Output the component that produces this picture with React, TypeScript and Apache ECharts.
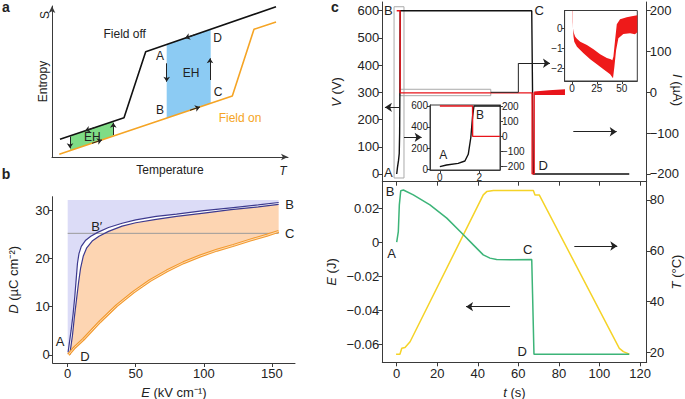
import React, { useEffect, useRef } from 'react';
import * as echarts from 'echarts';

const FONT = '"Liberation Sans", Arial, Helvetica, sans-serif';
const INK = '#222222';
const AXIS = '#3a3a3a';

// ---------- panel a : schematic (arbitrary units 0..100) ----------
const fieldOffT = [3.39, 30.51, 39.7, 94.92];
const fieldOffS = [11.72, 26.03, 69.74, 99.54];
const fieldOnT = [3.09, 76.4, 85.59, 94.92];
const fieldOnS = [1.79, 40.4, 84.57, 89.4];
const ehStart = [7.63, 48.6];
const ehEnd = [25.97, 67.25];
const ehColors = ['#7fdc86', '#8ccbf3'];
const cycleArrowsA = [
  [[48.6, 62.05], [48.6, 49.87]],
  [[66.95, 50.99], [66.95, 65.36]],
  [[60.59, 81.01], [56.36, 78.73]],
  [[58.47, 30.96], [62.71, 33.19]],
  [[7.63, 13.44], [7.63, 5.76]],
  [[25.97, 14.57], [25.97, 22.72]],
  [[18.22, 19.55], [13.98, 17.31]],
  [[16.95, 9.09], [21.19, 11.32]],
];

// ---------- panel b : D-E loops ----------
const upE = [0.3, 1.5, 2.5, 4, 5.2, 6.2, 7.2, 8.3, 10, 13, 17, 22, 30, 40, 50, 65, 80, 100, 120, 140, 155];
const upD = [0.5, 3, 5, 8.5, 12, 15.5, 19, 21, 22.5, 23.7, 24.6, 25.4, 26.4, 27.3, 28.0, 28.7, 29.2, 29.9, 30.5, 31.1, 31.6];
const loE = [1.5, 3.5, 5, 6.5, 8, 9.5, 11.5, 14, 18, 23, 30, 40, 50, 65, 80, 100, 120, 140, 155];
const loD = [0, 4, 8, 11.5, 15, 18, 20.5, 22.2, 23.6, 24.6, 25.6, 26.7, 27.4, 28.1, 28.7, 29.4, 30.1, 30.7, 31.2];
const orE = [0.5, 5, 11.5, 23.8, 36, 48.3, 60.5, 72.8, 85, 97.3, 109.6, 121.8, 134, 146.3, 155];
const orD = [0, 1.5, 3.2, 6.9, 10.2, 13, 15.4, 17.4, 19.1, 20.5, 21.7, 22.7, 23.8, 24.8, 25.6];
const bPlateauD = 25.2;
const bTopD = 32.1;
const bMaxE = 155;

// ---------- panel c top : V and I vs t ----------
const vT = [0, 0.4, 0.9, 1.25, 1.45, 1.57, 1.66, 1.73, 66.6, 67.4, 114.7];
const vV = [0, 25, 50, 75, 150, 300, 500, 600, 600, 0, 0];
const iT = [0, 1.7, 1.7, 66.8, 66.8, 67.8, 67.8];
const iI = [200, 200, -1.5, -1.5, -200, -200, 0];
const noiseT = [67.8, 75, 83];
const noiseHi = [2, 5, 7.4];
const noiseLo = [-6.6, -6.6, -6.6];
const box1T = [-1.3, 3.6];
const box1V = [-14.7, 614.6];
const box2T = [1.6, 46.4];
const box2I = [-8.3, 7.4];
const leaderT = [46.4, 60, 60];
const leaderI = [0, 0, 71.1];

// inset 1 (0-3 s)
const zT = [0, 0.34, 0.93, 1.27, 1.44, 1.57, 1.66, 1.73, 3.05];
const zV = [22, 38, 54, 76, 140, 300, 500, 600, 600];
const ziT = [0, 1.66, 1.66, 3.05];
const ziI = [200, 200, 0, 0];

// inset 2 (current envelope)
const nUpT = [0, 0.5, 1, 2, 3.3, 5, 8.3, 15, 21.6, 28.3, 35, 39, 40.5, 41.6, 43.3, 45, 48.3, 55, 60, 65.6];
const nUpI = [0.89, 0.3, 0.0, -0.25, -0.42, -0.52, -0.67, -0.83, -1.05, -1.3, -1.48, -1.55, -1.6, -1.42, -0.58, 0.2, 0.45, 0.55, 0.6, 0.65];
const nLoT = [0.3, 0.8, 1.5, 2.3, 5, 11.6, 18.3, 25, 31.6, 38.3, 41.2, 42.6, 44.3, 46.6, 51.6, 58.3, 63.3, 65.6];
const nLoI = [0.89, 0.2, -0.4, -0.67, -0.92, -1.25, -1.55, -1.8, -2.05, -2.3, -2.5, -1.92, -1.1, -0.5, -0.28, -0.25, -0.3, -0.2];

// ---------- panel c bottom : E and T vs t ----------
const eT = [0, 0.8, 1.3, 2, 3.3, 8.2, 16.4, 24.7, 32.9, 37.8, 42.7, 46, 49.3, 57.5, 66.6, 67, 67.7, 114.7];
const eJ = [0, 0.0062, 0.0219, 0.0302, 0.0306, 0.0278, 0.0219, 0.0141, 0.0043, -0.0016, -0.0075, -0.0094, -0.0102, -0.0104, -0.0102, -0.03, -0.0659, -0.0659];
const tT = [-0.3, 1.6, 2.5, 4.1, 6.6, 42.7, 44.4, 47.7, 67.4, 68.2, 70.3, 109.8, 111.8, 114.7];
const tC = [19.3, 19.3, 21.6, 21.9, 24.2, 82, 83.3, 83.7, 83.7, 82, 82, 21.6, 20.3, 19.3];

const zip = (a: number[], b: number[]) => a.map((v, i) => [v, b[i]]);
const interp = (xs: number[], ys: number[], x: number) => {
  for (let i = 0; i < xs.length - 1; i++) {
    if (x >= xs[i] && x <= xs[i + 1]) return ys[i] + ((x - xs[i]) / (xs[i + 1] - xs[i])) * (ys[i + 1] - ys[i]);
  }
  return ys[ys.length - 1];
};
const rectPts = (xr: number[], yr: number[]) => [[xr[0], yr[0]], [xr[1], yr[0]], [xr[1], yr[1]], [xr[0], yr[1]], [xr[0], yr[0]]];
const minusFmt = (v: number) => (v < 0 ? '\u2212' : '') + Math.abs(v);
const eFmt = (v: number) => (Math.abs(v) < 1e-9 ? '0' : (v < 0 ? '\u2212' : '') + Math.abs(v).toFixed(2));

const poly = (pts: number[][], fill: string, xi: number, yi: number, z = 1) => ({
  type: 'custom', xAxisIndex: xi, yAxisIndex: yi, silent: true, z, clip: true,
  data: [pts[0]],
  renderItem: (_p: any, api: any) => ({
    type: 'polygon',
    shape: { points: pts.map((p) => api.coord(p)) },
    style: { fill, stroke: 'none' },
  }),
});
const line = (data: number[][], color: string, width: number, xi: number, yi: number, z = 3) => ({
  type: 'line', xAxisIndex: xi, yAxisIndex: yi, data, showSymbol: false, symbol: 'none', silent: true, z,
  lineStyle: { color, width }, animation: false,
});
const arrows = (segs: number[][][], xi: number, yi: number, size = 7, color = '#222') => ({
  type: 'lines', coordinateSystem: 'cartesian2d', xAxisIndex: xi, yAxisIndex: yi, polyline: false,
  symbol: ['none', 'arrow'], symbolSize: size, silent: true, z: 6,
  lineStyle: { color, width: 1, opacity: 1, curveness: 0 },
  data: segs.map((c) => ({ coords: c })),
});

const nameStyle = (size = 13) => ({
  fontSize: size, color: INK, fontFamily: FONT,
  rich: { i: { fontStyle: 'italic', fontSize: size, color: INK, fontFamily: FONT } },
});
const valAxis = (o: any) => {
  const { grid, min, max, ticks, labels = true, fmt, size = 13, pos, name, gap, rot, tick = 4, margin = 3 } = o;
  return {
    type: 'value', gridIndex: grid, min, max, position: pos,
    name, nameLocation: 'middle', nameGap: gap, nameRotate: rot, nameTextStyle: nameStyle(13),
    axisLine: { show: true, onZero: false, lineStyle: { color: AXIS, width: 1 } },
    axisTick: { show: true, length: tick, customValues: ticks, lineStyle: { color: AXIS } },
    axisLabel: { show: labels, customValues: ticks, formatter: fmt, fontSize: size, color: INK, fontFamily: FONT, margin },
    splitLine: { show: false },
  };
};

const txt = (text: string, x: number, y: number, o: any = {}) => ({
  type: 'text', x, y, rotation: o.rot || 0, silent: true, z: 100,
  style: {
    text, fill: o.color || INK, fontSize: o.size || 13, fontFamily: FONT,
    fontWeight: o.weight || 'normal', fontStyle: o.style || 'normal',
    textAlign: 'center', textVerticalAlign: 'middle', align: 'center', verticalAlign: 'middle',
    rich: { i: { fontStyle: 'italic', fontSize: o.size || 13, fontFamily: FONT, fill: INK, color: INK } },
  },
});

export default function App() {
  const ref = useRef<HTMLDivElement>(null);
  useEffect(() => {
    document.body.style.margin = '0';
    const chart = echarts.init(ref.current!, undefined, { renderer: 'svg' });

    const ehPolys = ehStart.map((s, k) => {
      const e = ehEnd[k];
      return poly([
        [s, interp(fieldOffT, fieldOffS, s)], [e, interp(fieldOffT, fieldOffS, e)],
        [e, interp(fieldOnT, fieldOnS, e)], [s, interp(fieldOnT, fieldOnS, s)],
      ], ehColors[k], 0, 0, 1);
    });

    const up = zip(upE, upD);
    const lo = zip(loE, loD);
    const orr = zip(orE, orD);
    const lavender = [[0, 0], [0, bTopD], [bMaxE, bTopD], ...up.slice().reverse()];
    const peach = [...lo, ...orr.slice().reverse()];
    const noisePoly = [...zip(noiseT, noiseHi), ...zip(noiseT, noiseLo).reverse()];
    const insetPoly = [...zip(nUpT, nUpI), ...zip(nLoT, nLoI).reverse()];
    const leader = zip(leaderT, leaderI);

    const option: any = {
      animation: false,
      backgroundColor: '#ffffff',
      textStyle: { fontFamily: FONT },
      grid: [
        { left: 52, top: 6, width: 236, height: 151, outerBoundsMode: 'none' },
        { left: 52.7, top: 196.7, width: 242.3, height: 166.3, outerBoundsMode: 'none' },
        { left: 382.3, top: 2, width: 264.4, height: 179.7, outerBoundsMode: 'none' },
        { left: 382.3, top: 181.7, width: 264.4, height: 180.6, outerBoundsMode: 'none' },
        { left: 430, top: 105, width: 70, height: 65, show: true, borderColor: AXIS, borderWidth: 1, backgroundColor: '#fff', outerBoundsMode: 'none' },
        { left: 564.6, top: 10.5, width: 72.7, height: 70.5, show: true, borderColor: AXIS, borderWidth: 1, backgroundColor: '#fff', outerBoundsMode: 'none' },
      ],
      xAxis: [
        {
          type: 'value', gridIndex: 0, min: 0, max: 100,
          name: 'Temperature', nameLocation: 'middle', nameGap: 7, nameTextStyle: { fontSize: 12, color: INK, fontFamily: FONT },
          axisLine: { show: true, onZero: false, symbol: ['none', 'arrow'], symbolSize: [5, 7], lineStyle: { color: AXIS } },
          axisTick: { show: false }, axisLabel: { show: false }, splitLine: { show: false },
        },
        valAxis({ grid: 1, min: -11, max: 167, ticks: [0, 50, 100, 150], name: '{i|E} (kV cm\u207B\u00B9)', gap: 23, margin: 4 }),
        valAxis({ grid: 2, min: -7.1, max: 123.3, ticks: [0, 20, 40, 60, 80, 100, 120], labels: false }),
        valAxis({ grid: 3, min: -7.1, max: 123.3, ticks: [0, 20, 40, 60, 80, 100, 120], name: '{i|t} (s)', gap: 24, margin: 5 }),
        valAxis({ grid: 4, min: -0.5, max: 3.05, ticks: [0, 2], size: 10, tick: 3, margin: 2 }),
        valAxis({ grid: 5, min: -7.4, max: 65.6, ticks: [0, 25, 50], size: 10, tick: 3, margin: 2 }),
      ],
      yAxis: [
        {
          type: 'value', gridIndex: 0, min: 0, max: 100,
          name: 'Entropy', nameLocation: 'middle', nameGap: 3, nameRotate: 90, nameTextStyle: { fontSize: 12, color: INK, fontFamily: FONT },
          axisLine: { show: true, onZero: false, symbol: ['none', 'arrow'], symbolSize: [5, 7], lineStyle: { color: AXIS } },
          axisTick: { show: false }, axisLabel: { show: false }, splitLine: { show: false },
        },
        valAxis({ grid: 1, min: -1.7, max: 32.8, ticks: [0, 10, 20, 30], name: '{i|D} (\u00B5C cm\u207B\u00B2)', gap: 33, rot: 90 }),
        valAxis({ grid: 2, min: -28.3, max: 632, ticks: [0, 100, 200, 300, 400, 500, 600], pos: 'left', name: '{i|V} (V)', gap: 39, rot: 90 }),
        valAxis({ grid: 2, min: -219.1, max: 221.3, ticks: [-200, -100, 0, 100, 200], pos: 'right', fmt: minusFmt }),
        valAxis({ grid: 3, min: -0.0706, max: 0.0355, ticks: [-0.06, -0.04, -0.02, 0, 0.02], pos: 'left', fmt: eFmt, name: '{i|E} (J)', gap: 44, rot: 90 }),
        valAxis({ grid: 3, min: 16.1, max: 87.2, ticks: [20, 40, 60, 80], pos: 'right', name: '{i|T} (\u00B0C)', gap: 23, rot: 90 }),
        valAxis({ grid: 4, min: -9.5, max: 609.5, ticks: [0, 200, 400, 600], pos: 'left', size: 10, tick: 3, margin: 2 }),
        valAxis({ grid: 4, min: -221.8, max: 206.6, ticks: [-200, -100, 0, 100, 200], pos: 'right', fmt: minusFmt, size: 10, tick: 3, margin: 2 }),
        valAxis({ grid: 5, min: -2.635, max: 0.89, ticks: [-2, -1, 0], pos: 'left', fmt: minusFmt, size: 10, tick: 3, margin: 2 }),
      ],
      series: [
        // panel a
        ...ehPolys,
        line(zip(fieldOffT, fieldOffS), '#111111', 1.6, 0, 0),
        line(zip(fieldOnT, fieldOnS), '#f5a424', 1.6, 0, 0),
        arrows(cycleArrowsA, 0, 0, 5),
        // panel b
        poly(lavender, '#dcdcf7', 1, 1, 1),
        poly(peach, '#fdd5b2', 1, 1, 1),
        line([[0, bPlateauD], [bMaxE, bPlateauD]], '#9a9a9a', 1, 1, 1, 2),
        line(up, '#3d3a8f', 1.2, 1, 1, 4),
        line(lo, '#3d3a8f', 1.2, 1, 1, 4),
        line(orr, '#f39a2e', 3, 1, 1, 4),
        line(orr, '#fde3c8', 0.9, 1, 1, 5),
        // panel c top
        line(zip(vT, vV), '#111111', 1.4, 2, 2, 3),
        line(zip(iT, iI), '#e8141b', 1.4, 2, 3, 4),
        poly(noisePoly, '#e8141b', 2, 3, 4),
        line(rectPts(box1T, box1V), '#aaaaaa', 1, 2, 2, 2),
        line(rectPts(box2T, box2I), '#aaaaaa', 1, 2, 3, 2),
        line(leader, '#222222', 1, 2, 3, 6),
        arrows([[[1.3, 245], [-5.8, 245]], [[3.6, 134.8], [12.3, 134.8]]], 2, 2, 7),
        arrows([[[60, 71.1], [75.6, 71.1]], [[87.1, -96.6], [108.5, -96.6]]], 2, 3, 7),
        // inset 1
        line(zip(zT, zV), '#111111', 1.4, 4, 6, 5),
        line(zip(ziT, ziI), '#e8141b', 1.4, 4, 7, 5),
        // inset 2
        poly(insetPoly, '#ee1a1a', 5, 8, 5),
        // panel c bottom
        line(zip(tT, tC), '#f5d327', 1.5, 3, 5, 3),
        line(zip(eT, eJ), '#3cb478', 1.5, 3, 4, 4),
        arrows([[[55.9, -0.0379], [34.2, -0.0379]]], 3, 4, 7),
        arrows([[[87.6, 61.9], [108.8, 61.9]]], 3, 5, 7),
      ],
      graphic: [
        txt('a', 6, 7, { weight: 'bold', size: 14 }),
        txt('b', 6, 174, { weight: 'bold', size: 14 }),
        txt('c', 335, 7, { weight: 'bold', size: 14 }),
        txt('S', 45, 15, { size: 12, rot: Math.PI / 2 }),
        txt('T', 283, 171, { size: 12, style: 'italic' }),
        txt('{i|I} (\u00B5A)', 677, 90, { rot: -Math.PI / 2 }),
        txt('Field off', 124.7, 34, { size: 12 }),
        txt('Field on', 240, 118, { size: 12, color: '#f5a424' }),
        txt('A', 160, 56, { size: 12 }),
        txt('B', 160, 110, { size: 12 }),
        txt('C', 218, 92, { size: 12 }),
        txt('D', 217.5, 37.5, { size: 12 }),
        txt('EH', 191, 72.7, { size: 12 }),
        txt('EH', 92.3, 136.7, { size: 12 }),
        txt('B\u2032', 96.7, 226),
        txt('B', 289.7, 204.3),
        txt('C', 289.7, 233.3),
        txt('A', 60, 341.7),
        txt('D', 85, 356),
        txt('B', 388.3, 10),
        txt('C', 539.3, 10.7),
        txt('A', 388.3, 172.7),
        txt('D', 543.3, 165.7),
        txt('A', 443.3, 155, { size: 12 }),
        txt('B', 480, 115, { size: 12 }),
        txt('B', 390, 191),
        txt('A', 391.7, 253.3),
        txt('C', 527.7, 249),
        txt('D', 522.3, 351.7),
      ],
    };
    chart.setOption(option);
    return () => chart.dispose();
  }, []);
  return <div ref={ref} style={{ width: 685, height: 399 }} />;
}
